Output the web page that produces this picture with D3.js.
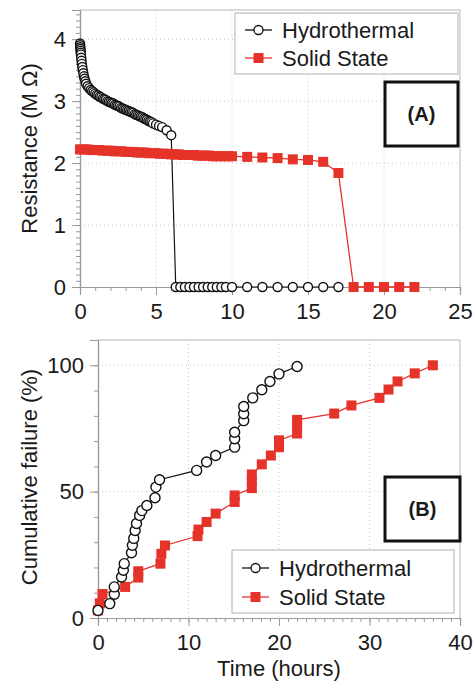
<!DOCTYPE html>
<html>
<head>
<meta charset="utf-8">
<script src="https://cdn.jsdelivr.net/npm/d3@7"></script>
<style>
  body { margin: 0; background: #fff; }
  svg text { font-family: "Liberation Sans", Arial, sans-serif; fill: #1a1a1a; }
</style>
</head>
<body>
<script>
// panel A : resistance vs time
var seriesNames = ["Hydrothermal", "Solid State"];

var hydroTimeA = [0, 0.01, 0.02, 0.03, 0.04, 0.05, 0.06, 0.08, 0.1, 0.12, 0.15, 0.18, 0.22, 0.26, 0.3, 0.35, 0.4, 0.5, 0.6, 0.7, 0.8, 0.9, 1.0, 1.1, 1.2, 1.3, 1.4, 1.5,
  1.6, 1.7, 1.8, 1.9, 2.0, 2.1, 2.2, 2.3, 2.4, 2.5, 2.6, 2.7, 2.8, 2.9, 3.0, 3.1, 3.2, 3.3, 3.4, 3.5, 3.6, 3.7, 3.8, 3.9, 4.0, 4.1, 4.2, 4.3, 4.4, 4.5, 4.6, 4.7, 4.8,
  5.0, 5.2, 5.4, 5.7, 6.0,
  6.3, 6.6, 6.9, 7.2, 7.5, 7.8, 8.1, 8.4, 8.7, 9.0, 9.3, 9.6, 10.0, 11, 12, 13, 14, 15, 16, 17];
var hydroResA = [3.93, 3.90, 3.87, 3.84, 3.81, 3.78, 3.75, 3.70, 3.65, 3.60, 3.55, 3.50, 3.45, 3.40, 3.36, 3.32, 3.28, 3.24, 3.21, 3.18, 3.16, 3.14, 3.12, 3.10, 3.09, 3.07, 3.06, 3.04,
  3.03, 3.02, 3.00, 2.99, 2.98, 2.97, 2.96, 2.94, 2.93, 2.92, 2.91, 2.89, 2.88, 2.87, 2.86, 2.85, 2.84, 2.83, 2.82, 2.81, 2.79, 2.78, 2.77, 2.76, 2.75, 2.74, 2.72, 2.71, 2.70, 2.68, 2.67, 2.66, 2.64,
  2.62, 2.60, 2.58, 2.53, 2.45,
  0, 0, 0, 0, 0, 0, 0, 0, 0, 0, 0, 0, 0, 0, 0, 0, 0, 0, 0, 0];

var solidTimeA = [0, 0.25, 0.5, 0.75, 1.0, 1.25, 1.5, 1.75, 2.0, 2.25, 2.5, 2.75, 3.0, 3.25, 3.5, 3.75, 4.0, 4.25, 4.5, 4.75, 5.0,
  5.25, 5.5, 5.75, 6.0, 6.25, 6.5, 6.75, 7.0, 7.25, 7.5, 7.75, 8.0, 8.25, 8.5, 8.75, 9.0, 9.25, 9.5, 9.75, 10.0,
  11, 12, 13, 14, 15, 16, 17, 18, 19, 20, 21, 22];
var solidResA = [2.22, 2.22, 2.22, 2.21, 2.21, 2.21, 2.20, 2.20, 2.20, 2.19, 2.19, 2.19, 2.18, 2.18, 2.18, 2.17, 2.17, 2.17, 2.16, 2.16, 2.16,
  2.15, 2.15, 2.15, 2.14, 2.14, 2.14, 2.13, 2.13, 2.13, 2.13, 2.12, 2.12, 2.12, 2.12, 2.11, 2.11, 2.11, 2.11, 2.11, 2.11,
  2.10, 2.09, 2.08, 2.06, 2.05, 2.02, 1.84, 0, 0, 0, 0, 0];

// panel B : cumulative failure vs time
var hydroTimeB = [0, 1.3, 1.8, 1.8, 2.6, 2.8, 2.9, 3.7, 3.8, 3.95, 4.1, 4.25, 4.6, 4.85, 5.4, 6.3, 6.4, 6.8,
  10.9, 12.0, 13.0, 15.1, 15.1, 15.1, 16.1, 16.1, 16.1, 17.1, 18.1, 19.0, 20.0, 22.0];
var hydroFailB = [3.0, 5.7, 9.4, 12.3, 16.2, 18.9, 21.5, 25.8, 28.8, 31.5, 34.6, 37.4, 40.6, 42.5, 44.5, 47.6, 51.8, 54.7,
  58.4, 61.7, 64.3, 67.6, 70.9, 73.5, 78.1, 80.8, 83.7, 87.1, 90.3, 93.6, 96.6, 99.5];

var solidTimeB = [0, 0.2, 0.5, 3.0, 4.45, 4.45, 6.9, 7.0, 7.4, 11.0, 11.1, 12.0, 13.0, 15.1, 15.1,
  17.0, 17.0, 17.0, 18.1, 19.1, 20.0, 20.0, 22.0, 22.0, 22.0, 26.1, 28.0, 31.1, 32.1, 33.1, 35.0, 37.0];
var solidFailB = [3.0, 5.8, 9.5, 12.3, 16.0, 18.5, 21.5, 25.4, 28.7, 32.4, 35.0, 38.0, 41.3, 45.9, 48.5,
  51.4, 54.1, 56.8, 60.8, 64.3, 67.6, 70.3, 73.0, 75.7, 78.4, 80.9, 84.1, 87.1, 90.4, 93.6, 96.8, 100];

var xMajorA = [0, 5, 10, 15, 20, 25], yMajorA = [0, 1, 2, 3, 4];
var xMajorB = [0, 10, 20, 30, 40], yMajorB = [0, 50, 100];

var red = "#e5332a";
var width = 476, height = 686;

var svg = d3.select("body").append("svg").attr("width", width).attr("height", height);

function zip(xs, ys) {
  return xs.map(function(d, i) { return {x: d, y: ys[i]}; });
}

function panel(opt) {
  var x = d3.scaleLinear().domain(opt.xDomain).range([opt.left, opt.right]);
  var y = d3.scaleLinear().domain(opt.yDomain).range([opt.bottom, opt.top]);
  var g = svg.append("g");

  // dotted grid
  g.selectAll(".gx").data(opt.xMajor.filter(function(d) { return d > opt.xDomain[0] && d < opt.xDomain[1]; }))
    .enter().append("line")
    .attr("x1", function(d) { return x(d); }).attr("x2", function(d) { return x(d); })
    .attr("y1", opt.top).attr("y2", opt.bottom)
    .attr("stroke", "#c8c8c8").attr("stroke-dasharray", "1,3");
  g.selectAll(".gy").data(opt.yMajor.filter(function(d) { return d > 0; }))
    .enter().append("line")
    .attr("y1", function(d) { return y(d); }).attr("y2", function(d) { return y(d); })
    .attr("x1", opt.left).attr("x2", opt.right)
    .attr("stroke", "#c8c8c8").attr("stroke-dasharray", "1,3");

  // frame top + right
  g.append("path")
    .attr("d", "M" + opt.left + "," + opt.top + "H" + opt.right + "V" + opt.bottom)
    .attr("fill", "none").attr("stroke", "#b8b8b8");

  // minor ticks
  var xm = g.append("g").attr("transform", "translate(0," + opt.bottom + ")")
    .call(d3.axisBottom(x).tickValues(opt.xMinor).tickSize(4).tickFormat(""));
  var ym = g.append("g").attr("transform", "translate(" + opt.left + ",0)")
    .call(d3.axisLeft(y).tickValues(opt.yMinor).tickSize(4).tickFormat(""));

  var xa = g.append("g").attr("transform", "translate(0," + opt.bottom + ")")
    .call(d3.axisBottom(x).tickValues(opt.xMajor).tickSize(8).tickPadding(8).tickFormat(d3.format("d")));
  var ya = g.append("g").attr("transform", "translate(" + opt.left + ",0)")
    .call(d3.axisLeft(y).tickValues(opt.yMajor).tickSize(8).tickPadding(6).tickFormat(d3.format("d")));

  [xm, ym, xa, ya].forEach(function(a) {
    a.selectAll("path").attr("stroke", "#999").attr("stroke-width", 1.2);
    a.selectAll("line").attr("stroke", "#999");
  });
  [xa, ya].forEach(function(a) {
    a.selectAll("text").style("font-size", "22px").attr("fill", "#1a1a1a");
  });

  // y title
  g.append("text")
    .attr("transform", "translate(37," + ((opt.top + opt.bottom) / 2 + opt.titleShift) + ") rotate(-90)")
    .attr("text-anchor", "middle").style("font-size", "22px")
    .text(opt.yTitle);

  var line = d3.line().x(function(d) { return x(d.x); }).y(function(d) { return y(d.y); });

  var solid = zip(opt.solidT, opt.solidV);
  var hydro = zip(opt.hydroT, opt.hydroV);

  g.append("path").attr("d", line(solid)).attr("fill", "none").attr("stroke", red).attr("stroke-width", 1.3);
  g.append("path").attr("d", line(hydro)).attr("fill", "none").attr("stroke", "#111").attr("stroke-width", 1.2);

  var s = opt.sq;
  g.selectAll(".sq").data(solid).enter().append("rect")
    .attr("x", function(d) { return x(d.x) - s / 2; })
    .attr("y", function(d) { return y(d.y) - s / 2; })
    .attr("width", s).attr("height", s)
    .attr("fill", red);
  g.selectAll(".ci").data(hydro).enter().append("circle")
    .attr("cx", function(d) { return x(d.x); })
    .attr("cy", function(d) { return y(d.y); })
    .attr("r", opt.r)
    .attr("fill", "#fff").attr("stroke", "#111").attr("stroke-width", 1.4);

  // legend
  var lg = opt.legend;
  g.append("rect").attr("x", lg.x).attr("y", lg.y).attr("width", lg.w).attr("height", lg.h)
    .attr("fill", "#fff").attr("stroke", "#b0b0b0");
  seriesNames.forEach(function(name, i) {
    var cy = lg.y + lg.rows[i];
    var col = i === 0 ? "#111" : red;
    g.append("line").attr("x1", lg.x + 10).attr("x2", lg.x + 37).attr("y1", cy).attr("y2", cy)
      .attr("stroke", col).attr("stroke-width", 1.3);
    if (i === 0) {
      g.append("circle").attr("cx", lg.x + 23.5).attr("cy", cy).attr("r", 4.5)
        .attr("fill", "#fff").attr("stroke", "#111").attr("stroke-width", 1.3);
    } else {
      g.append("rect").attr("x", lg.x + 23.5 - s / 2).attr("y", cy - s / 2).attr("width", s).attr("height", s)
        .attr("fill", red);
    }
    g.append("text").attr("x", lg.x + 47).attr("y", cy + 8).style("font-size", "22px").text(name);
  });

  // panel tag
  var tg = opt.tag;
  g.append("rect").attr("x", tg.x).attr("y", tg.y).attr("width", tg.w).attr("height", tg.h)
    .attr("fill", "#fff").attr("stroke", "#111").attr("stroke-width", 3);
  g.append("text").attr("x", tg.x + tg.w / 2).attr("y", tg.y + tg.h / 2 + 7)
    .attr("text-anchor", "middle").style("font-size", "20px").style("font-weight", "bold")
    .text(tg.label);

  return {x: x, y: y};
}

panel({
  left: 80, right: 460, top: 10, bottom: 287,
  xDomain: [0, 25], yDomain: [0, 4.47],
  xMajor: xMajorA, yMajor: yMajorA,
  xMinor: d3.range(0, 25.01, 1), yMinor: d3.range(0, 4.41, 0.1),
  yTitle: "Resistance (M Ω)", titleShift: 0,
  hydroT: hydroTimeA, hydroV: hydroResA, solidT: solidTimeA, solidV: solidResA,
  r: 4.5, sq: 10,
  legend: {x: 235, y: 13, w: 223, h: 61, rows: [17, 45]},
  tag: {x: 385, y: 82, w: 73, h: 64, label: "(A)"}
});

panel({
  left: 98, right: 460, top: 340, bottom: 618,
  xDomain: [0, 40], yDomain: [0, 110],
  xMajor: xMajorB, yMajor: yMajorB,
  xMinor: d3.range(0, 40.01, 1), yMinor: d3.range(0, 110, 10),
  yTitle: "Cumulative failure (%)", titleShift: -2,
  hydroT: hydroTimeB, hydroV: hydroFailB, solidT: solidTimeB, solidV: solidFailB,
  r: 5, sq: 10,
  legend: {x: 232, y: 550, w: 222, h: 63, rows: [18, 47]},
  tag: {x: 385, y: 477, w: 75, h: 64, label: "(B)"}
});

svg.append("text").attr("x", 279).attr("y", 676).attr("text-anchor", "middle")
  .style("font-size", "22px").text("Time (hours)");
</script>
</body>
</html>
